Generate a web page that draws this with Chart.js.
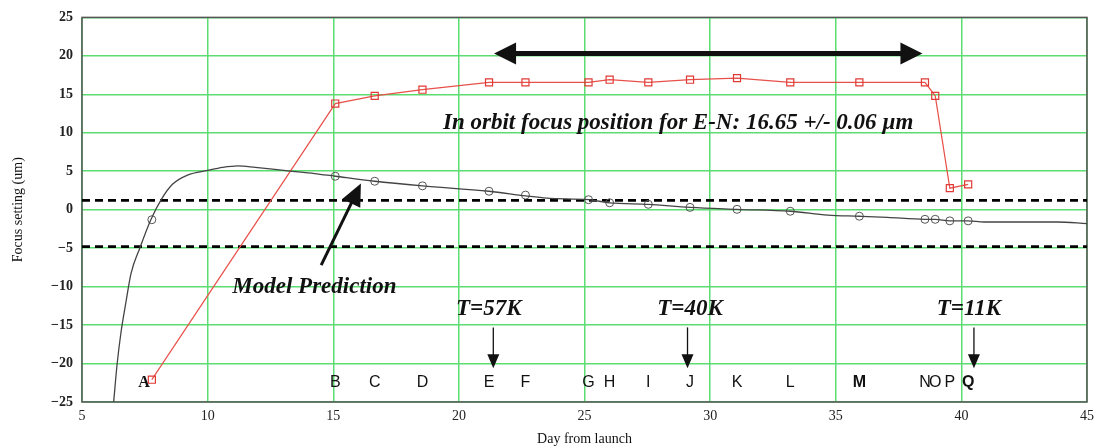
<!DOCTYPE html>
<html>
<head>
<meta charset="utf-8">
<script src="https://cdn.jsdelivr.net/npm/chart.js@4.4.1/dist/chart.umd.min.js"></script>
<style>
  html, body { margin: 0; padding: 0; background: #fff; }
  #wrap { width: 1100px; height: 448px; }
</style>
</head>
<body>
<div id="wrap"><canvas id="focusChart" width="1100" height="448"></canvas></div>
<script>
// Measurement days and their letter labels
const letters = ['A','B','C','D','E','F','G','H','I','J','K','L','M','N','O','P','Q'];
const days = [7.78, 15.08, 16.65, 18.55, 21.2, 22.65, 25.16, 26.0, 27.54, 29.2, 31.07, 33.19, 35.94, 38.55, 38.96, 39.54, 40.27];
// Measured focus setting (red squares)
const measured = [-22.1, 13.8, 14.8, 15.6, 16.55, 16.55, 16.55, 16.9, 16.55, 16.9, 17.1, 16.55, 16.55, 16.55, 14.8, 2.8, 3.3];
// Model prediction at measurement days (circles)
const modelAtDays = [-1.3, 4.35, 3.7, 3.1, 2.4, 1.9, 1.3, 0.9, 0.7, 0.3, 0.05, -0.2, -0.85, -1.25, -1.25, -1.45, -1.45];
// Model prediction curve
const modelX = [6.26, 6.4, 6.55, 6.75, 6.95, 7.3, 7.74, 8.17, 8.6, 9.2, 10.0, 10.6, 11.2, 11.9, 13.2, 14.26, 15.08, 16.65, 18.55, 21.2, 22.65, 23.5, 25.16, 26.0, 27.54, 29.2, 31.07, 33.19, 34.68, 35.94, 37.06, 38.55, 38.96, 39.54, 40.27, 40.9, 43.8, 45];
const modelY = [-25, -20, -16, -12, -8.3, -5.0, -1.3, 1.4, 3.3, 4.5, 5.1, 5.5, 5.7, 5.5, 5.05, 4.7, 4.35, 3.7, 3.1, 2.4, 1.8, 1.5, 1.3, 0.9, 0.7, 0.3, 0.05, -0.2, -0.7, -0.85, -1.0, -1.25, -1.25, -1.45, -1.45, -1.6, -1.6, -1.8];
// Dashed tolerance levels
const limitLevels = [1.2, -4.8];
const xTicks = [5, 10, 15, 20, 25, 30, 35, 40, 45];
const yTicks = [-25, -20, -15, -10, -5, 0, 5, 10, 15, 20, 25];

const serif = '"Liberation Serif", "Times New Roman", serif';
const sans = '"Liberation Sans", Arial, sans-serif';

const datasets = [
  {
    label: 'Model curve',
    data: modelX.map((x, i) => ({ x, y: modelY[i] })),
    showLine: true, borderColor: '#444', borderWidth: 1.3,
    pointRadius: 0, cubicInterpolationMode: 'monotone'
  },
  {
    label: 'Model at days',
    data: days.map((x, i) => ({ x, y: modelAtDays[i] })),
    showLine: false, pointStyle: 'circle', pointRadius: 4,
    borderColor: '#555', backgroundColor: 'rgba(255,255,255,0)', borderWidth: 1
  },
  {
    label: 'Measured',
    data: days.map((x, i) => ({ x, y: measured[i] })),
    showLine: true, borderColor: '#e8504a', borderWidth: 1.2,
    pointStyle: 'rect', pointRadius: 5, pointBorderWidth: 1.2,
    pointBorderColor: '#e03a35', pointBackgroundColor: 'rgba(255,255,255,0)'
  }
];
limitLevels.forEach(v => {
  datasets.push({
    label: 'limit',
    data: [{ x: xTicks[0], y: v }, { x: xTicks[xTicks.length - 1], y: v }],
    showLine: true, borderColor: '#000', borderWidth: 2.8, borderDash: [8, 5],
    pointRadius: 0
  });
});

function arrowHead(ctx, x1, y1, x2, y2, len, half) {
  const a = Math.atan2(y2 - y1, x2 - x1);
  ctx.beginPath();
  ctx.moveTo(x2, y2);
  ctx.lineTo(x2 - len * Math.cos(a) + half * Math.sin(a), y2 - len * Math.sin(a) - half * Math.cos(a));
  ctx.lineTo(x2 - len * Math.cos(a) - half * Math.sin(a), y2 - len * Math.sin(a) + half * Math.cos(a));
  ctx.closePath();
  ctx.fill();
}

// Annotations: border, letters, texts and arrows
const annotations = {
  id: 'annotations',
  beforeDatasetsDraw(chart) {
    const { ctx, chartArea: a } = chart;
    ctx.save();
    ctx.strokeStyle = '#555';
    ctx.lineWidth = 1.5;
    ctx.strokeRect(a.left, a.top, a.right - a.left, a.bottom - a.top);
    ctx.restore();
  },
  afterDatasetsDraw(chart) {
    const { ctx } = chart;
    const xs = chart.scales.x, ys = chart.scales.y;
    const px = v => xs.getPixelForValue(v);
    const py = v => ys.getPixelForValue(v);
    ctx.save();
    ctx.fillStyle = '#111';
    ctx.strokeStyle = '#111';

    // point letters
    ctx.textBaseline = 'middle';
    letters.forEach((l, i) => {
      let x = px(days[i]);
      if (l === 'A') {
        ctx.font = 'bold 16px ' + serif;
        ctx.textAlign = 'right';
        x -= 2;
      } else {
        ctx.font = ((l === 'M' || l === 'Q') ? 'bold ' : '') + '16px ' + sans;
        ctx.textAlign = 'center';
      }
      ctx.fillText(l, x, py(-22.5));
    });

    // labels
    ctx.textAlign = 'center';
    ctx.font = 'italic bold 23px ' + serif;
    ctx.fillText('In orbit focus position for E-N: 16.65 +/- 0.06 \u00b5m', px(28.73), py(11.2));
    ctx.fillText('Model Prediction', px(14.25), py(-10.1));
    ctx.fillText('T=57K', px(21.19), py(-12.9));
    ctx.fillText('T=40K', px(29.2), py(-12.9));
    ctx.fillText('T=11K', px(40.3), py(-12.9));

    // double headed arrow
    const ay = py(20.3), ax1 = px(21.4), ax2 = px(38.45);
    ctx.lineWidth = 5;
    ctx.beginPath();
    ctx.moveTo(ax1 + 15, ay); ctx.lineTo(ax2 - 15, ay);
    ctx.stroke();
    arrowHead(ctx, ax2, ay, ax1, ay, 22, 11);
    arrowHead(ctx, ax1, ay, ax2, ay, 22, 11);

    // model prediction arrow
    const mx1 = px(14.52), my1 = py(-7.2), mx2 = px(16.1), my2 = py(3.4);
    ctx.lineWidth = 3;
    ctx.beginPath();
    ctx.moveTo(mx1, my1);
    ctx.lineTo(mx1 + (mx2 - mx1) * 0.8, my1 + (my2 - my1) * 0.8);
    ctx.stroke();
    arrowHead(ctx, mx1, my1, mx2, my2, 22, 10);

    // temperature arrows
    ctx.lineWidth = 1.3;
    [21.37, 29.1, 40.5].forEach(d => {
      const x = px(d), y1 = py(-15.3), y2 = py(-20.6);
      ctx.beginPath();
      ctx.moveTo(x, y1); ctx.lineTo(x, y2 - 10);
      ctx.stroke();
      arrowHead(ctx, x, y1, x, y2, 14, 6);
    });
    ctx.restore();
  }
};

new Chart(document.getElementById('focusChart'), {
  type: 'scatter',
  data: { datasets },
  options: {
    responsive: false,
    animation: false,
    layout: { padding: { left: 0, right: 10, top: 17, bottom: 0 } },
    plugins: { legend: { display: false }, tooltip: { enabled: false } },
    scales: {
      x: {
        type: 'linear', min: xTicks[0], max: xTicks[xTicks.length - 1],
        afterFit: s => { s.height = 46; },
        afterBuildTicks: s => { s.ticks = xTicks.map(v => ({ value: v })); },
        grid: { color: '#5ddc72', lineWidth: 1.5, drawTicks: false },
        border: { display: false },
        ticks: { padding: 6, color: '#222', font: { family: serif, size: 14 } },
        title: { display: true, text: 'Day from launch', color: '#111', font: { family: serif, size: 14 }, padding: { top: 0, bottom: 0 } }
      },
      y: {
        type: 'linear', min: yTicks[0], max: yTicks[yTicks.length - 1],
        afterFit: s => { s.width = 82; },
        afterBuildTicks: s => { s.ticks = yTicks.map(v => ({ value: v })); },
        grid: { color: '#5ddc72', lineWidth: 1.5, drawTicks: false },
        border: { display: false },
        ticks: {
          padding: 9, color: '#222', font: { family: serif, size: 14, weight: 'bold' },
          callback: v => String(v).replace('-', '\u2212')
        },
        title: { display: true, text: 'Focus setting (um)', color: '#111', font: { family: serif, size: 14 }, padding: { top: 10, bottom: 0 } }
      }
    }
  },
  plugins: [annotations]
});
</script>
</body>
</html>
